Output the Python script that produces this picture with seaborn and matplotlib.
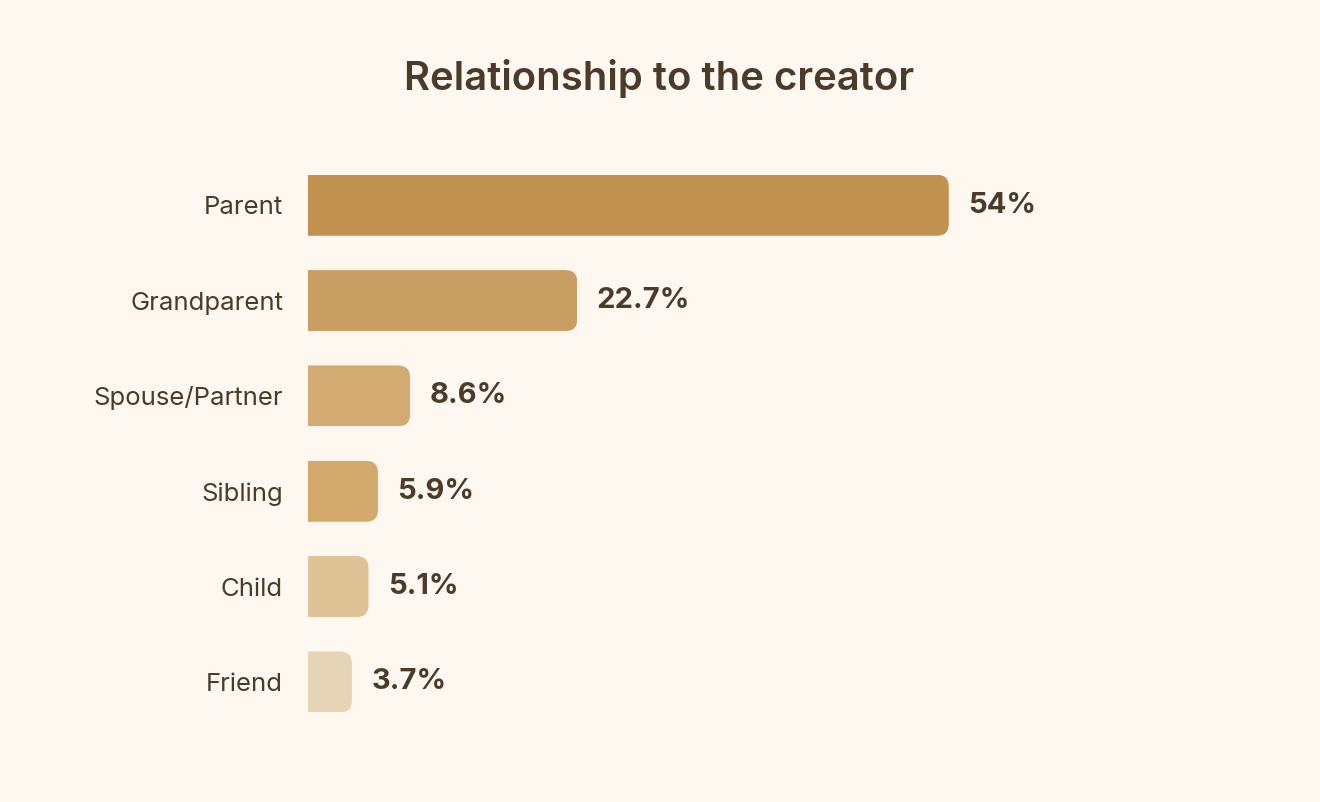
import matplotlib
matplotlib.use("Agg")
import matplotlib.pyplot as plt
import seaborn as sns
import pandas as pd
from matplotlib.patches import FancyBboxPatch
from matplotlib.transforms import IdentityTransform

categories = ["Parent", "Grandparent", "Spouse/Partner", "Sibling", "Child", "Friend"]
values = [54, 22.7, 8.6, 5.9, 5.1, 3.7]
value_labels = ["54%", "22.7%", "8.6%", "5.9%", "5.1%", "3.7%"]
colors = ["#C29250", "#C99E62", "#D2AA72", "#D4A96C", "#DFC396", "#E5D5B6"]
title = "Relationship to the creator"

BG = "#FEF8F0"
TXT = "#4A3B2A"

sns.set_theme(style="white")
plt.rcParams["font.family"] = ["Inter", "DejaVu Sans"]

df = pd.DataFrame({"category": categories, "value": values})

fig = plt.figure(figsize=(13.2, 8.02), dpi=100, facecolor=BG)
ax = fig.add_axes([308 / 1320, 1 - 729.6 / 802, 712 / 1320, 572 / 802])
ax.set_facecolor(BG)

sns.barplot(data=df, y="category", x="value", hue="category", palette=colors,
            order=categories, hue_order=categories, legend=False, ax=ax,
            width=0.64, saturation=1, linewidth=0)

ax.set_xlim(0, 60)
ax.set_ylim(5.5, -0.5)
ax.set_xlabel("")
ax.set_ylabel("")
ax.set_xticks([])
ax.tick_params(axis="y", length=0, pad=18, labelsize=18.5, labelcolor=TXT)
for s in ax.spines.values():
    s.set_visible(False)

fig.canvas.draw()
r = 12
for cont, lab in zip(ax.containers, value_labels):
    for p in cont:
        bb = p.get_window_extent()
        clip = FancyBboxPatch((bb.x0 - 3 * r, bb.y0), bb.width + 3 * r, bb.height,
                              boxstyle=f"round,pad=0,rounding_size={r}",
                              transform=IdentityTransform())
        p.set_clip_path(clip)
    ax.bar_label(cont, labels=[lab], padding=14, fontsize=21, fontweight="bold",
                 color=TXT)

fig.text(659 / 1320, 1 - 78 / 802, title, ha="center", va="center",
         fontsize=28.8, fontweight="semibold", color=TXT)

fig.savefig("out.png", dpi=100, facecolor=BG)
